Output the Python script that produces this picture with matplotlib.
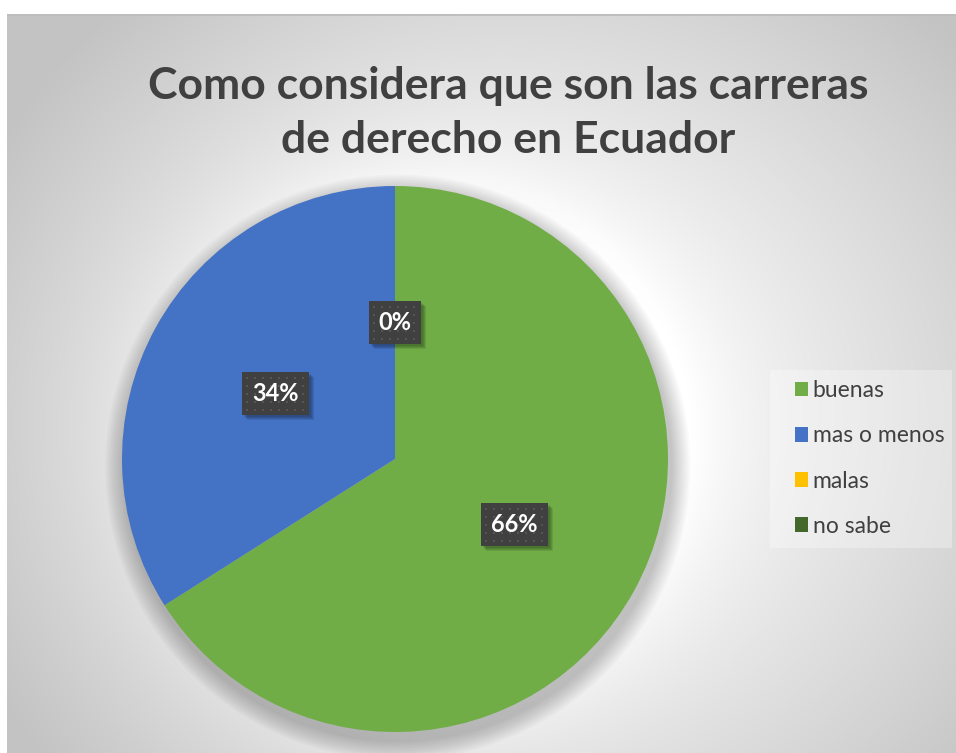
import numpy as np
import matplotlib.pyplot as plt
from matplotlib.patches import Circle, Rectangle

categorias = ["buenas", "mas o menos", "malas", "no sabe"]
valores = [66, 34, 0, 0]
colores = ["#70AD47", "#4472C4", "#FFC000", "#43682B"]
titulo = "Como considera que son las carreras\nde derecho en Ecuador"

W, H = 956, 753
fig = plt.figure(figsize=(W / 100, H / 100), dpi=100)
fig.patch.set_facecolor("white")

# fondo con degradado radial (estilo Excel)
cx, cy, R = 395, 459, 273
bg = fig.add_axes([7 / W, 0, 1 - 7 / W, 1 - 14 / H])
bg.set_axis_off()
yy, xx = np.mgrid[0:400, 0:500]
xx = xx / 499 * (W - 7) + 7
yy = yy / 399 * (H - 14) + 14
r = np.hypot((xx - 520) / 600, (yy - 420) / 560)
r = np.clip(r, 0, 1)
g = 0.985 - 0.22 * r ** 1.5
# halo claro alrededor del pastel
d = np.hypot(xx - cx - 25, yy - cy + 15)
g = g + 0.05 * np.exp(-np.clip(d - R, 0, None) / 60)
g = np.clip(g, 0, 1)
img = np.dstack([g, g, g])
bg.imshow(img, extent=[0, 1, 0, 1], aspect="auto", origin="upper")
bg.set_xlim(0, 1)
bg.set_ylim(0, 1)
bg.axhline(1, color="#bdbdbd", lw=2)

# pastel
ax = fig.add_axes([(cx - R) / W, (H - cy - R) / H, 2 * R / W, 2 * R / H])
ax.set_xlim(-1, 1)
ax.set_ylim(-1, 1)
ax.set_aspect("equal")
ax.set_axis_off()

# sombra difusa del pastel
for i in range(12):
    ax.add_patch(Circle((0.01, -0.03), 1.0 + 0.006 * (12 - i), color="black",
                        alpha=0.02, lw=0, zorder=0, clip_on=False))

wedges, texts, autotexts = ax.pie(
    valores, colors=colores, startangle=90, counterclock=False,
    radius=1.0, autopct="%1.0f%%", pctdistance=0.5,
    wedgeprops=dict(linewidth=0),
    textprops=dict(color="white", fontsize=17, fontweight="bold", family="Lato"))
for w in wedges:
    w.set_zorder(2)
    w.set_clip_on(False)

vistos = set()
etiquetas = []
for t in autotexts:
    if t.get_text() in vistos:
        t.set_visible(False)
        continue
    vistos.add(t.get_text())
    t.set_zorder(6)
    t.set_bbox(dict(boxstyle="square,pad=0.42", facecolor="#404040",
                    edgecolor="none", linewidth=0))
    etiquetas.append(t)
ax.set_xlim(-1, 1)
ax.set_ylim(-1, 1)

fig.text(508 / W, 1 - 113 / H, titulo, ha="center", va="center",
         fontsize=32, fontweight="bold", color="#404040", family="Lato",
         linespacing=1.4)

# leyenda con su fondo claro
fig.patches.append(Rectangle((770 / W, 1 - 548 / H), 182 / W, 178 / H,
                             transform=fig.transFigure, facecolor="white",
                             alpha=0.3, linewidth=0, zorder=1))
leg = fig.legend(wedges, categorias, loc="center left",
                 bbox_to_anchor=(795 / W, 1 - 458.5 / H),
                 frameon=False, labelspacing=1.05, borderpad=0,
                 borderaxespad=0,
                 handlelength=0.58, handleheight=0.58, handletextpad=0.2,
                 labelcolor="#404040",
                 prop=dict(family="Lato", size=16.5))

# sombras y puntos de las cajas de etiquetas
fig.canvas.draw()
for t in etiquetas:
    bb = t.get_bbox_patch().get_window_extent()
    for k in range(4):
        o = 2 + k
        fig.patches.append(Rectangle(((bb.x0 + o) / W, (bb.y0 - o) / H),
                                     bb.width / W, bb.height / H,
                                     transform=fig.transFigure, facecolor="black",
                                     alpha=0.09, linewidth=0, zorder=4))
    xs = np.arange(bb.x0 + 4, bb.x1 - 1, 8)
    ys = np.arange(bb.y0 + 4, bb.y1 - 1, 8)
    for px in xs:
        for py in ys:
            fig.patches.append(Rectangle((px / W, py / H), 2 / W, 2 / H,
                                         transform=fig.transFigure,
                                         facecolor="#555555", linewidth=0,
                                         zorder=5))
    # caja dibujada de nuevo sobre la sombra, en coordenadas de figura
    fig.patches.append(Rectangle((bb.x0 / W, bb.y0 / H), bb.width / W, bb.height / H,
                                 transform=fig.transFigure, facecolor="#404040",
                                 linewidth=0, zorder=4.5))
    t.get_bbox_patch().set_visible(False)
    t.remove()
    fig.text(bb.x0 / W + bb.width / W / 2, bb.y0 / H + bb.height / H / 2,
             t.get_text(), ha="center", va="center", color="white",
             fontsize=17, fontweight="bold", family="Lato", zorder=6)

fig.savefig("out.png", dpi=100)
